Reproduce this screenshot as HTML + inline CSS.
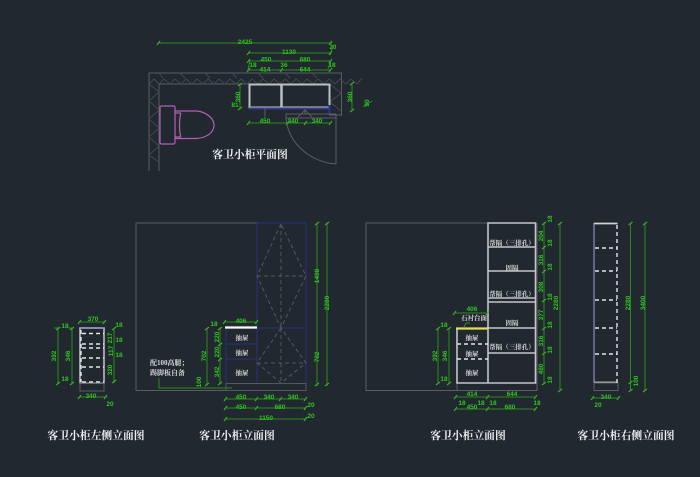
<!DOCTYPE html>
<html><head><meta charset="utf-8"><style>
html,body{margin:0;padding:0;background:#212830;width:700px;height:477px;overflow:hidden}
svg{display:block}
.d{stroke:#2b8a1c;stroke-width:1;fill:none}
.t{stroke:#35b020;stroke-width:1.2;fill:none}
.g{fill:#2fc41f;font:bold 6.5px "Liberation Sans",sans-serif;text-anchor:middle}
.w{fill:#d8d8d8;font:bold 6.5px "Liberation Serif","Noto Serif CJK SC",serif;text-anchor:middle}
.h{fill:#f0f0f0;font:bold 10.8px "Liberation Serif","Noto Serif CJK SC",serif;text-anchor:middle}
.gr{stroke:#5b5d62;stroke-width:1;fill:none}
.c{stroke:#c4c6c8;stroke-width:1.6;fill:none}
.b{stroke:#2a3070;stroke-width:1.2;fill:none}
.dash{stroke:#55575c;stroke-width:1;fill:none;stroke-dasharray:4 3}
.wd{stroke:#e4e4e4;stroke-width:1.4;fill:none;stroke-dasharray:4 3}
</style></head><body>
<svg width="700" height="477" viewBox="0 0 700 477" xmlns="http://www.w3.org/2000/svg">
<rect width="700" height="477" fill="#212830"/>
<g style="filter:blur(0.25px)">

<!-- PLAN -->
<path class="gr" d="M149 171V73H341.500V115H329M159 171V84H329"/>
<path d="M149 84l5-5 5 5 5-5 6 5 5-5 6 5 5-5 6 5 5-5 6 5 5-5 6 5 5-5 6 5 5-5 6 5 5-5 6 5 5-5 6 5 5-5 6 5 5-5 6 5 5-5 6 5 5-5 6 5 5-5 6 5 5-5 6 5 5-5 6 5 5-5 6 5 5-5 6 5 5-6M149 84l10 8-10 9 10 9-10 9 10 9-10 9 10 9-10 9 10 7M330 84l11 9-11 9 11 9" stroke="#45484e" stroke-width="1" fill="none"/>
<path d="M159 73l4 5M180 73l5 5M205 73l5 5M232 73l5 5M258 73l5 5M285 73l5 5M312 73l5 5" stroke="#45484e" fill="none"/>
<rect x="160" y="106" width="15" height="38" rx="1.500" fill="#212830" stroke="#b45fb4" stroke-width="1.200"/>
<path d="M175 111H197C207 112 214 119 214 125C214 133 206 138 196 138.500H175M181 113C179 118 179 132 181 137M175 113H181M175 137H181" fill="none" stroke="#b45fb4" stroke-width="1.200"/>
<rect x="249.500" y="84.500" width="80" height="23" fill="none" stroke="#bdbfc1" stroke-width="2"/>
<path d="M281.500 84V108" stroke="#bdbfc1" stroke-width="2.500"/>
<path d="M249 108.500H330" stroke="#363c8c" stroke-width="2"/>
<path d="M329.500 105V114" stroke="#2232b0" stroke-width="2"/>
<path class="gr" d="M286 118V114H336V164M286 118H336M286 118C288 143 310 162 336 164M298 117L305 110L312 117M305 109V114M265 108V118"/>
<g class="d">
<path d="M159 43H332"/><path d="M249 53H330M249 61H330M249 70H330"/>
<path d="M240 84V108M249 123H330"/><path d="M352 83V110"/>
<path d="M333 46L330 55M331 60L328 69M250 60L248 70M363 107L372 101"/>
</g>
<path class="t" d="M157 45l3-4M329 45l3-4M247 55l3-4M329 55l3-4M247 63l3-4M329 63l3-4M247 72l3-4M280 72l3-4M329 72l3-4M238 86l4-3M238 110l4-3M350 85l4-3M350 112l4-3M247 125l3-4M286 125l3-4M304 125l3-4M329 125l3-4"/>
<g class="g">
<text x="245" y="44">2425</text><text x="333" y="49" font-size="6">20</text><text x="289" y="54">1130</text>
<text x="266" y="61.500">450</text><text x="305" y="61.500">680</text><text x="253" y="67">18</text><text x="284" y="67">36</text><text x="332" y="67">18</text>
<text x="265" y="71.500">414</text><text x="305" y="71.500">644</text>
<text transform="translate(240 97) rotate(-90)">360</text><text x="235" y="107">81</text>
<text transform="translate(352 97) rotate(-90)">360</text><text transform="translate(369 103) rotate(-90)">90</text>
<text x="265" y="123">450</text><text x="293" y="123">340</text><text x="317" y="123">340</text>
</g>
<text class="h" x="250" y="158">客卫小柜平面图</text>

<!-- LEFT SIDE -->
<rect x="80" y="328" width="24" height="55" fill="none" stroke="#c4c6c8" stroke-width="1.500"/>
<path d="M80 328H104" stroke="#8d90c0" stroke-width="1.500"/>
<rect x="80" y="383" width="24" height="8" fill="none" stroke="#5b5d62"/>
<path class="wd" d="M82 333.500H104M82 344H104M82 348H104M82 358H104M82 367H104M82 382H104M81 330V382"/>
<g class="d"><path d="M58 328V383M72 328V383M80 322H104M80 397H107M114 328V383M54 328H60M68 328H74"/></g>
<path class="t" d="M78 324l3-4M103 324l3-4M56 330l4-3M56 385l4-3M70 330l4-3M70 385l4-3M78 399l3-4M104 399l3-4M112 330l4-3M112 383l4-3"/>
<g class="g"><text x="93" y="321">370</text><text transform="translate(56 356) rotate(-90)">392</text><text transform="translate(70 356) rotate(-90)">346</text><text x="65" y="328">18</text><text x="65" y="381">18</text><text x="91" y="398">340</text><text x="110" y="406">20</text>
<text transform="translate(112 338) rotate(-90)">217</text><text transform="translate(113 351) rotate(-90)">117</text><text transform="translate(112 370) rotate(-90)">320</text><text x="119" y="327">18</text><text x="119" y="342">18</text><text x="119" y="357">18</text></g>
<text class="h" x="96" y="439">客卫小柜左侧立面图</text>

<!-- ELEVATION 1 -->
<path class="gr" d="M257 223H136V390.500H306"/>
<rect x="226" y="383.500" width="80" height="7" fill="none" stroke="#55575c"/>
<path class="b" d="M257 223H306V383M257 223V383M226 328H306M226 344H257M226 359H257M226 328V383"/>
<path class="dash" d="M281 224V328M281 224L257 276L281 328L306 276L281 224M257 276H306M281 328V383M281 328L257 363L281 383L306 363L281 328M257 363H306"/>
<path d="M225 327.500H257" stroke="#fff" stroke-width="2.200"/>
<g class="w"><text x="242" y="340">抽屉</text><text x="242" y="355">抽屉</text><text x="242" y="375">抽屉</text>
<text x="150" y="365" style="text-anchor:start" font-size="7">配100高腿；</text><text x="150" y="375" style="text-anchor:start" font-size="7">踢脚板自备</text></g>
<g class="d"><path d="M317 223V386M327 223V386M207 328V384M220 328V384M225 322H257M159 378V388H232M226 399H306M226 408H306M226 419H306"/></g>
<path class="t" d="M223 324l3-4M255 324l3-4M205 330l4-3M205 386l4-3M218 330l4-3M218 346l4-3M218 361l4-3M218 385l4-3M224 401l3-4M255 401l3-4M279 401l3-4M304 401l3-4M224 410l3-4M255 410l3-4M304 410l3-4M224 421l3-4M304 421l3-4M315 225l4-3M325 225l4-3M315 386l4-3M325 386l4-3"/>
<g class="g"><text x="241" y="323">406</text>
<text transform="translate(319 276) rotate(-90)">1498</text><text transform="translate(329 303) rotate(-90)">2280</text><text transform="translate(319 357) rotate(-90)">782</text>
<text transform="translate(206 356) rotate(-90)">702</text><text transform="translate(219 337) rotate(-90)">220</text><text transform="translate(219 352) rotate(-90)">220</text><text transform="translate(219 372) rotate(-90)">342</text><text x="214" y="326">18</text><text transform="translate(201 382) rotate(-90)">100</text>
<text x="241" y="399">450</text><text x="269" y="399">340</text><text x="293" y="399">340</text><text x="241" y="409">450</text><text x="280" y="409">680</text><text x="266" y="420">1150</text><text x="311" y="407">20</text><text x="311" y="418">20</text></g>
<text class="h" x="237" y="439">客卫小柜立面图</text>

<!-- ELEVATION 2 -->
<path class="gr" d="M488 223H366V390.500H537V223"/>
<path d="M457 383V390.500" stroke="#5b5d62"/>
<path class="c" d="M488 383V223H535.500V383H457V328M488 247H535.500M488 271H535.500M488 298H535.500M488 302H535.500M488 328H535.500M488 353H535.500"/>
<path d="M456 328.500H488" stroke="#e8dc50" stroke-width="2.200"/>
<path class="wd" d="M457 344H488M457 359H488"/>
<g class="w"><text x="512" y="245">帮隔（三排孔）</text><text x="512" y="270">固隔</text><text x="512" y="296">帮隔（三排孔）</text><text x="512" y="325">固隔</text><text x="512" y="349">帮隔（三排孔）</text><text x="472" y="340">抽屉</text><text x="472" y="356">抽屉</text><text x="472" y="375">抽屉</text><text x="474" y="320">石衬台面</text></g>
<path class="d" d="M455 313H488M464 327L466 323H470M438 328V383M449 328V383M544 223V383M560 223V390M456 397H488M488 397H536M456 409H536"/>
<path class="t" d="M453 315l3-4M486 315l3-4M436 330l4-3M436 385l4-3M447 330l4-3M447 385l4-3M542 225l4-3M542 249l4-3M542 273l4-3M542 302l4-3M542 330l4-3M542 355l4-3M542 385l4-3M558 225l4-3M558 392l4-3M454 399l3-4M486 399l3-4M534 399l3-4M454 411l3-4M486 411l3-4M534 411l3-4"/>
<g class="g"><text x="472" y="311">406</text><text transform="translate(437 356) rotate(-90)">392</text><text transform="translate(447 356) rotate(-90)">346</text><text x="444" y="327">18</text><text x="444" y="381">18</text>
<text transform="translate(543 236) rotate(-90)">204</text><text transform="translate(543 260) rotate(-90)">316</text><text transform="translate(543 287) rotate(-90)">308</text><text transform="translate(543 315) rotate(-90)">377</text><text transform="translate(543 341) rotate(-90)">316</text><text transform="translate(543 369) rotate(-90)">480</text>
<text transform="translate(552 219) rotate(-90)">18</text><text transform="translate(552 243) rotate(-90)">18</text><text transform="translate(552 267) rotate(-90)">18</text><text transform="translate(552 297) rotate(-90)">18</text><text transform="translate(552 325) rotate(-90)">18</text><text transform="translate(552 350) rotate(-90)">18</text><text transform="translate(552 380) rotate(-90)">18</text>
<text transform="translate(558 303) rotate(-90)">2280</text>
<text x="472" y="396">414</text><text x="512" y="396">644</text><text x="462" y="405">18</text><text x="481" y="405">18</text><text x="493" y="405">18</text><text x="537" y="405">18</text><text x="472" y="409">450</text><text x="510" y="409">680</text></g>
<text class="h" x="468" y="439">客卫小柜立面图</text>

<!-- RIGHT SIDE -->
<path d="M594 223V383" stroke="#8d90c0" stroke-width="1.200"/>
<path d="M594 223.500H617.500M594 382.500H617.500" stroke="#d0d0d0" stroke-width="1.800"/>
<rect x="594" y="383" width="24" height="7.500" fill="none" stroke="#5b5d62"/>
<path class="wd" d="M617 225V383M595 248H617M595 271H617M595 300H617M595 328H617M595 354H617" stroke-dasharray="3.500 2.500"/>
<path class="d" d="M630.500 223V390M645 223V390M592 398H619"/>
<path class="t" d="M628.500 225l4-3M643 225l4-3M628.500 392l4-3M643 392l4-3M628.500 384l4-3M591 400l3-4M617 400l3-4"/>
<g class="g"><text transform="translate(630 303) rotate(-90)">2280</text><text transform="translate(645 303) rotate(-90)">3400</text><text transform="translate(638 381) rotate(-90)">100</text><text x="606" y="399">340</text><text x="598" y="407">20</text></g>
<text class="h" x="626" y="439">客卫小柜右侧立面图</text>
</g>
</svg>
</body></html>
